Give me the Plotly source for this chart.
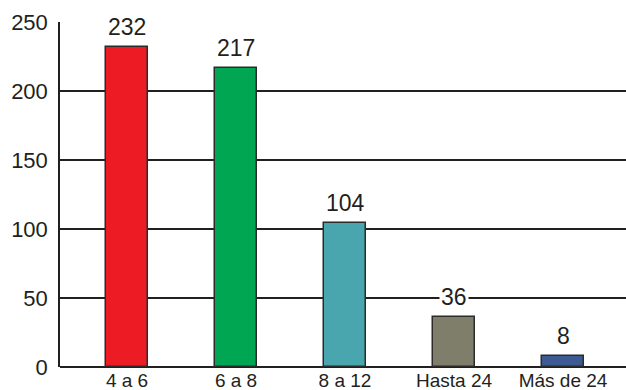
import plotly.graph_objects as go

categories = ["4 a 6", "6 a 8", "8 a 12", "Hasta 24", "Más de 24"]
values = [232, 217, 104, 36, 8]
colors = ["#ED1C24", "#00A651", "#49A6AE", "#7E7E6B", "#3E5A93"]
y_ticks = [0, 50, 100, 150, 200, 250]

font_family = "Liberation Sans, Arial, sans-serif"

fig = go.Figure(
    go.Bar(
        x=categories,
        y=values,
        width=0.39,
        marker=dict(color=colors, line=dict(color="#2b2b2b", width=1.5)),
        hoverinfo="x+y",
    )
)

# value labels above each bar, on a white box so gridlines are hidden behind them
for cat, val in zip(categories, values):
    fig.add_annotation(
        x=cat, y=val, text=str(val), showarrow=False,
        yanchor="bottom", yshift=5,
        bgcolor="white", borderpad=1,
        font=dict(family=font_family, size=23, color="#231f20"),
    )

fig.update_layout(
    width=626, height=390,
    margin=dict(l=60, r=0, t=22, b=23),
    paper_bgcolor="white", plot_bgcolor="white",
    showlegend=False,
    bargap=0,
)
fig.update_xaxes(
    type="category",
    range=[-0.615, 4.578],
    automargin=False,
    showgrid=False, showline=False, zeroline=False,
    ticks="",
    tickfont=dict(family=font_family, size=19, color="#231f20"),
)
fig.update_yaxes(
    range=[0, 250],
    tickvals=y_ticks,
    automargin=False,
    showgrid=True, gridcolor="#231f20", gridwidth=1.5,
    showline=True, linecolor="#231f20", linewidth=1.5,
    zeroline=True, zerolinecolor="#231f20", zerolinewidth=1.5,
    ticks="", ticklabelstandoff=6,
    tickfont=dict(family=font_family, size=22, color="#231f20"),
)

fig.write_html("out.html")
